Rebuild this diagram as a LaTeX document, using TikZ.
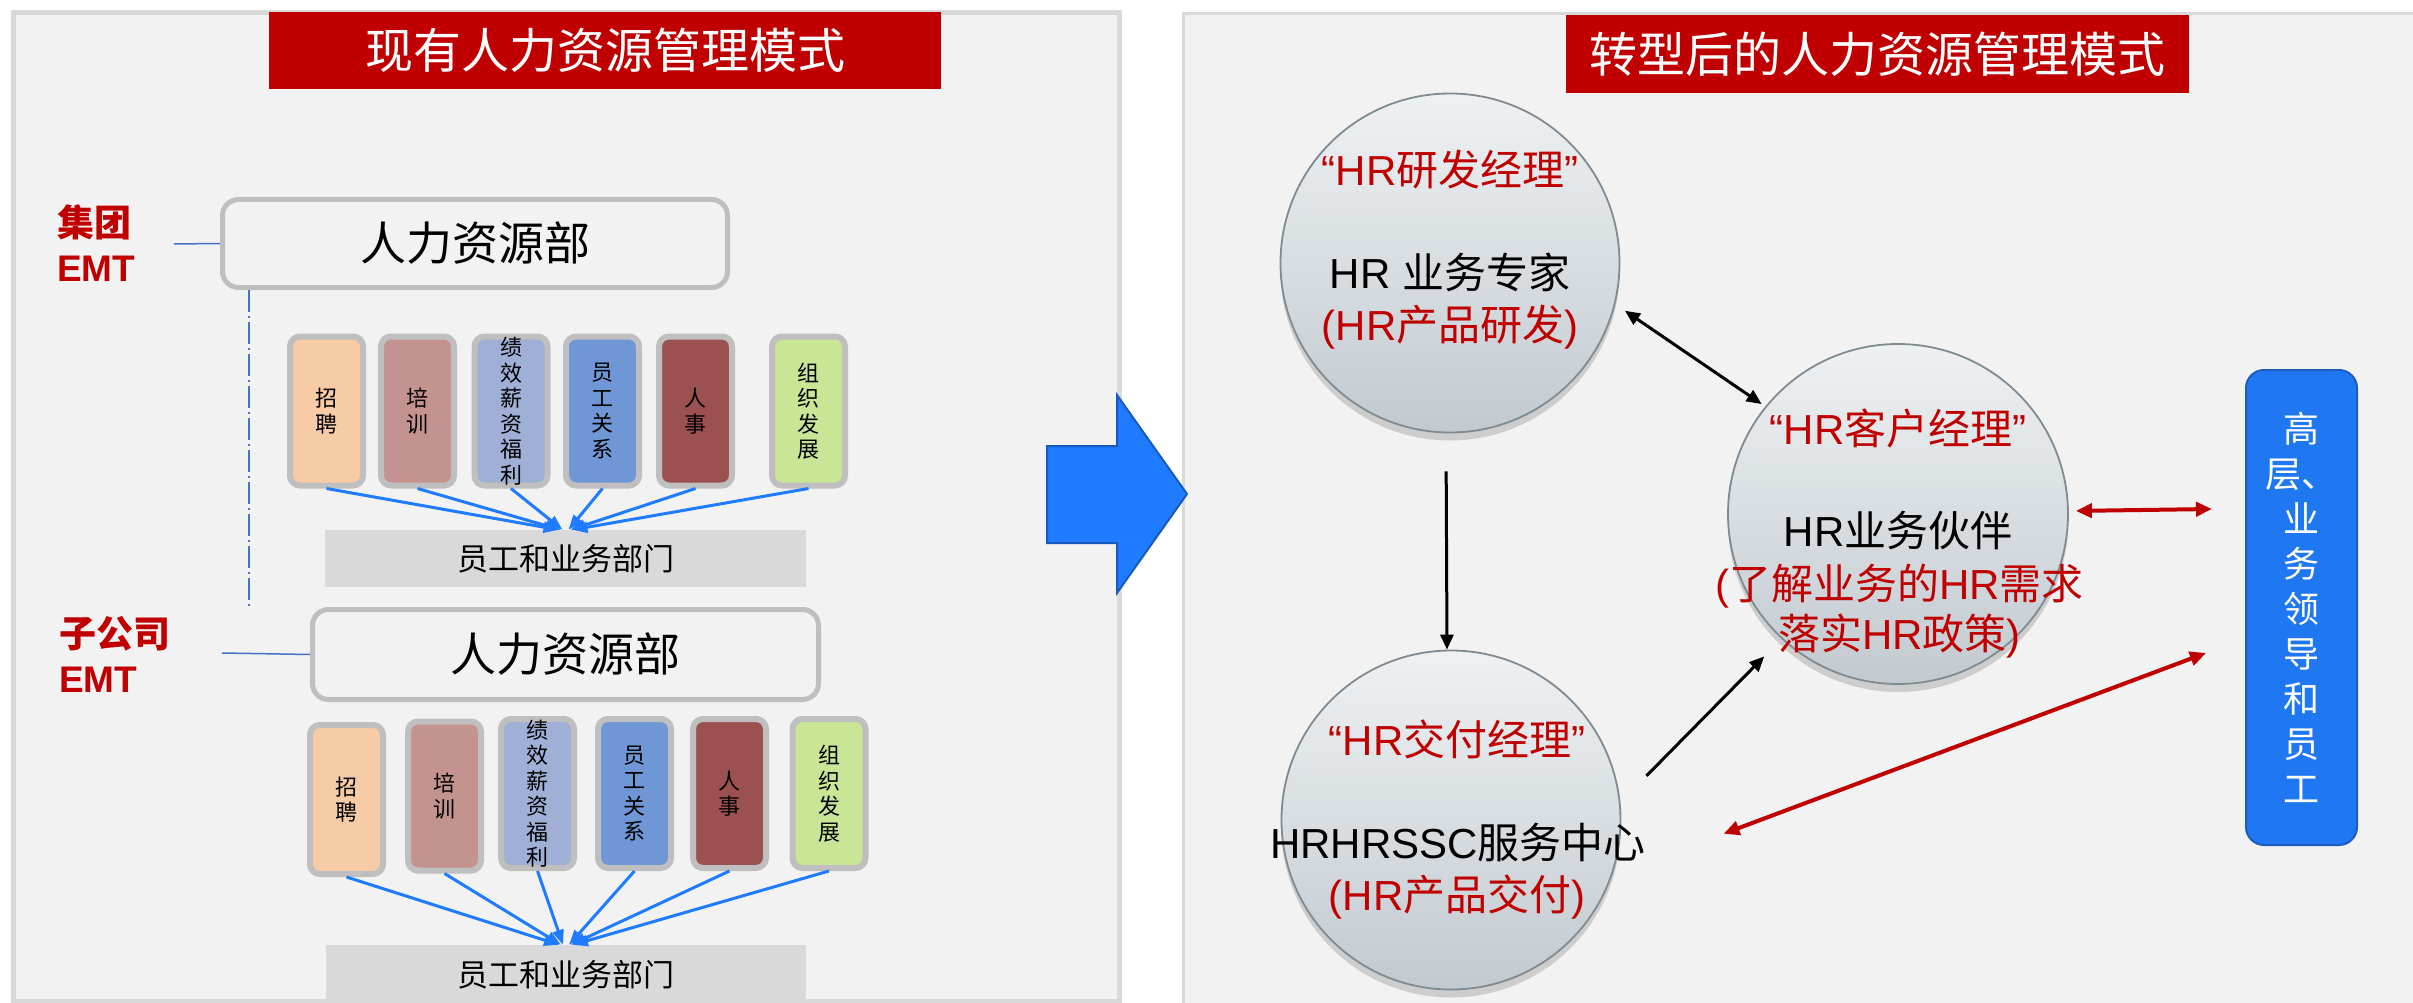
\documentclass[tikz,border=0pt]{standalone}
\usepackage{fontspec}
\setmainfont{Noto Sans CJK SC}
\newfontfamily\lat{Liberation Sans}
\usetikzlibrary{arrows.meta,shadows}
\definecolor{hrred}{HTML}{C00000}
\definecolor{panelfill}{HTML}{F2F2F2}
\definecolor{panelline}{HTML}{D9D9D9}
\definecolor{boxline}{HTML}{BFBFBF}
\definecolor{deptfill}{HTML}{D9D9D9}
\definecolor{connblue}{HTML}{4472C4}
\definecolor{arrblue}{HTML}{1F7BFF}
\definecolor{arrblueline}{HTML}{1859C0}
\definecolor{cpeach}{HTML}{F6CBA6}
\definecolor{crose}{HTML}{C4928F}
\definecolor{clav}{HTML}{A0AFD6}
\definecolor{cblue}{HTML}{6F97D6}
\definecolor{cbrown}{HTML}{9C5151}
\definecolor{cgreen}{HTML}{C9E596}
\definecolor{circline}{HTML}{7F8B93}
\definecolor{circtop}{HTML}{EEF1F3}
\definecolor{circbot}{HTML}{C2CAD0}
\definecolor{hbfill}{HTML}{1F78F2}
\definecolor{hbline}{HTML}{1C5EC0}
\begin{document}
\begin{tikzpicture}[x=1pt,y=-1pt,
  panelL/.style={draw=panelline,line width=5pt,fill=panelfill},
  panelR/.style={draw=panelline,line width=3pt,fill=panelfill},
  titlebox/.style={fill=hrred,text=white,inner sep=0pt,font=\fontsize{48}{52}\selectfont},
  hrbox/.style={draw=boxline,line width=5pt,fill=panelfill,rounded corners=16pt,inner sep=0pt,font=\fontsize{46}{50}\selectfont},
  sbox/.style={draw=boxline,line width=6pt,rounded corners=10pt,minimum width=73pt,minimum height=149pt,inner sep=0pt,align=center,font=\fontsize{22}{25.5}\selectfont},
  dept/.style={fill=deptfill,inner sep=0pt,font=\fontsize{31}{35}\selectfont},
  emt/.style={text=hrred,inner sep=0pt,align=left,font=\fontsize{37}{45}\selectfont\bfseries},
  conn/.style={draw=connblue,line width=1.5pt},
  ddash/.style={draw=connblue,line width=1.2pt,dash pattern=on 22pt off 4pt on 2pt off 4pt},
  barrow/.style={draw=arrblue,line width=3pt,-{Triangle[length=15pt,width=11pt]}},
  bigarrow/.style={fill=arrblue,draw=arrblueline,line width=2pt,line join=miter},
  hrcirc/.style={circle,draw=circline,line width=1.8pt,top color=circtop,bottom color=circbot,inner sep=0pt,
    drop shadow={shadow xshift=0pt,shadow yshift=-8pt,opacity=0.22,fill=black!70}},
  ctext/.style={inner sep=0pt,font=\fontsize{42}{50}\selectfont,text height=.88em,text depth=.12em},
  redt/.style={ctext,text=hrred},
  blkt/.style={ctext,text=black},
  hbox/.style={rounded corners=18pt,fill=hbfill,draw=hbline,line width=2pt,text=white,align=center,inner sep=0pt,font=\fontsize{36}{45}\selectfont},
  karrow/.style={draw=black,line width=3pt},
  ktip/.tip={Triangle[length=15pt,width=13pt]},
  rtip/.tip={Triangle[length=16pt,width=14pt]},
  rarrow/.style={draw=hrred,line width=4pt,rtip-rtip}
]
\fill[white] (0,0) rectangle (2413,1003);
\useasboundingbox (0,0) rectangle (2413,1003);

% panels
\draw[panelL] (13.5,12.5) rectangle (1119.5,1001);
\draw[panelR] (1183.5,13.5) rectangle (2430,1012);

% titles
\node[titlebox,minimum width=672pt,minimum height=77pt] (tL) at (605,50.5) {现有人力资源管理模式};
\node[titlebox,minimum width=623pt,minimum height=78pt] (tR) at (1877.5,54) {转型后的人力资源管理模式};

% ---- left: group level
\node[hrbox,minimum width=505pt,minimum height=88pt] (h1) at (475,243.5) {人力资源部};
\node[emt,anchor=west] (g1) at (57,243.5) {集团\\{\lat EMT}};
\coordinate (g1e) at (174,244);
\draw[conn] (g1e) -- (h1.west);

\node[sbox,fill=cpeach] (a1) at (326.5,411) {招\\聘};
\node[sbox,fill=crose]  (a2) at (417.5,411) {培\\训};
\node[sbox,fill=clav]   (a3) at (511,411) {绩\\效\\薪\\资\\福\\利};
\node[sbox,fill=cblue]  (a4) at (602.5,411) {员\\工\\关\\系};
\node[sbox,fill=cbrown] (a5) at (695.5,411) {人\\事};
\node[sbox,fill=cgreen] (a6) at (808.5,411) {组\\织\\发\\展};

\node[dept,minimum width=481pt,minimum height=57pt] (d1) at (565.5,558.5) {员工和业务部门};
\foreach \i/\s in {1/-7,2/-5,3/-3,4/3,5/5,6/7}
  \draw[barrow] (a\i.south) -- ([xshift=\s pt]d1.north);

% ---- left: subsidiary level
\node[hrbox,minimum width=506pt,minimum height=90pt] (h2) at (565.5,654.5) {人力资源部};
\node[emt,anchor=west] (g2) at (59,654.5) {子公司\\{\lat EMT}};
\coordinate (g2e) at (222,653);
\draw[conn] (g2e) -- (h2.west);
\draw[ddash] ([xshift=29pt]h1.south west) -- ([xshift=29pt]h1.south west |- h2.north);

\node[sbox,fill=cpeach] (b1) at (346.5,799.5) {招\\聘};
\node[sbox,fill=crose]  (b2) at (444.5,796) {培\\训};
\node[sbox,fill=clav]   (b3) at (537.5,793.5) {绩\\效\\薪\\资\\福\\利};
\node[sbox,fill=cblue]  (b4) at (634.5,793.5) {员\\工\\关\\系};
\node[sbox,fill=cbrown] (b5) at (729.5,793.5) {人\\事};
\node[sbox,fill=cgreen] (b6) at (829,793.5) {组\\织\\发\\展};

\node[dept,minimum width=480pt,minimum height=60pt] (d2) at (566,975) {员工和业务部门};
\foreach \i/\s in {1/-7,2/-5,3/-3,4/3,5/5,6/7}
  \draw[barrow] (b\i.south) -- ([xshift=\s pt]d2.north);

% big arrow
\draw[bigarrow] (1047,446) -- (1117,446) -- (1117,395) -- (1187,494) -- (1117,593) -- (1117,543) -- (1047,543) -- cycle;

% ---- right
\node[hrcirc,minimum size=339pt] (c1) at (1450,263) {};
\node[hrcirc,minimum size=340pt] (c2) at (1898,514) {};
\node[hrcirc,minimum size=339pt] (c3) at (1451,820) {};

\node[redt] (c1a) at (1450,182) {{\lat “HR}研发经理{\lat ”}};
\node[blkt] (c1b) at (1450,285) {{\lat HR }业务专家};
\node[redt] (c1c) at (1450,337) {{\lat (HR}产品研发{\lat )}};

\node[redt] (c2a) at (1898,441) {{\lat “HR}客户经理{\lat ”}};
\node[blkt] (c2b) at (1898,543) {{\lat HR}业务伙伴};
\node[redt] (c2c) at (1899.5,596) {{\lat (}了解业务的{\lat HR}需求};
\node[redt] (c2d) at (1899.5,646) {落实{\lat HR}政策{\lat )}};

\node[redt] (c3a) at (1457,752) {{\lat “HR}交付经理{\lat ”}};
\node[blkt] (c3b) at (1458,855) {{\lat HRHRSSC}服务中心};
\node[redt] (c3c) at (1457,907) {{\lat (HR}产品交付{\lat )}};

\node[hbox,minimum width=111pt,minimum height=475pt] (hb) at (2301.5,607.5) {高\\层、\\业\\务\\领\\导\\和\\员\\工};

% connectors
\draw[karrow,ktip-ktip,shorten <=11.6pt,shorten >=4.3pt] (c1.-14.9) -- (c2.141.2);
\draw[karrow,-ktip,shorten <=38pt] ([xshift=-4pt]c1.south) -- ([xshift=-4pt]c3.north);
\draw[karrow,-ktip,shorten <=37pt,shorten >=24.5pt] (c3.6.7) -- (c2.-133.9);
\draw[rarrow,shorten <=7pt] (c2.1) -- ([shift={(-33,-98.5)}]hb.west);
\draw[rarrow,shorten <=119pt] (c3.-19.1) -- ([shift={(-39,45.5)}]hb.west);
\end{tikzpicture}
\end{document}
